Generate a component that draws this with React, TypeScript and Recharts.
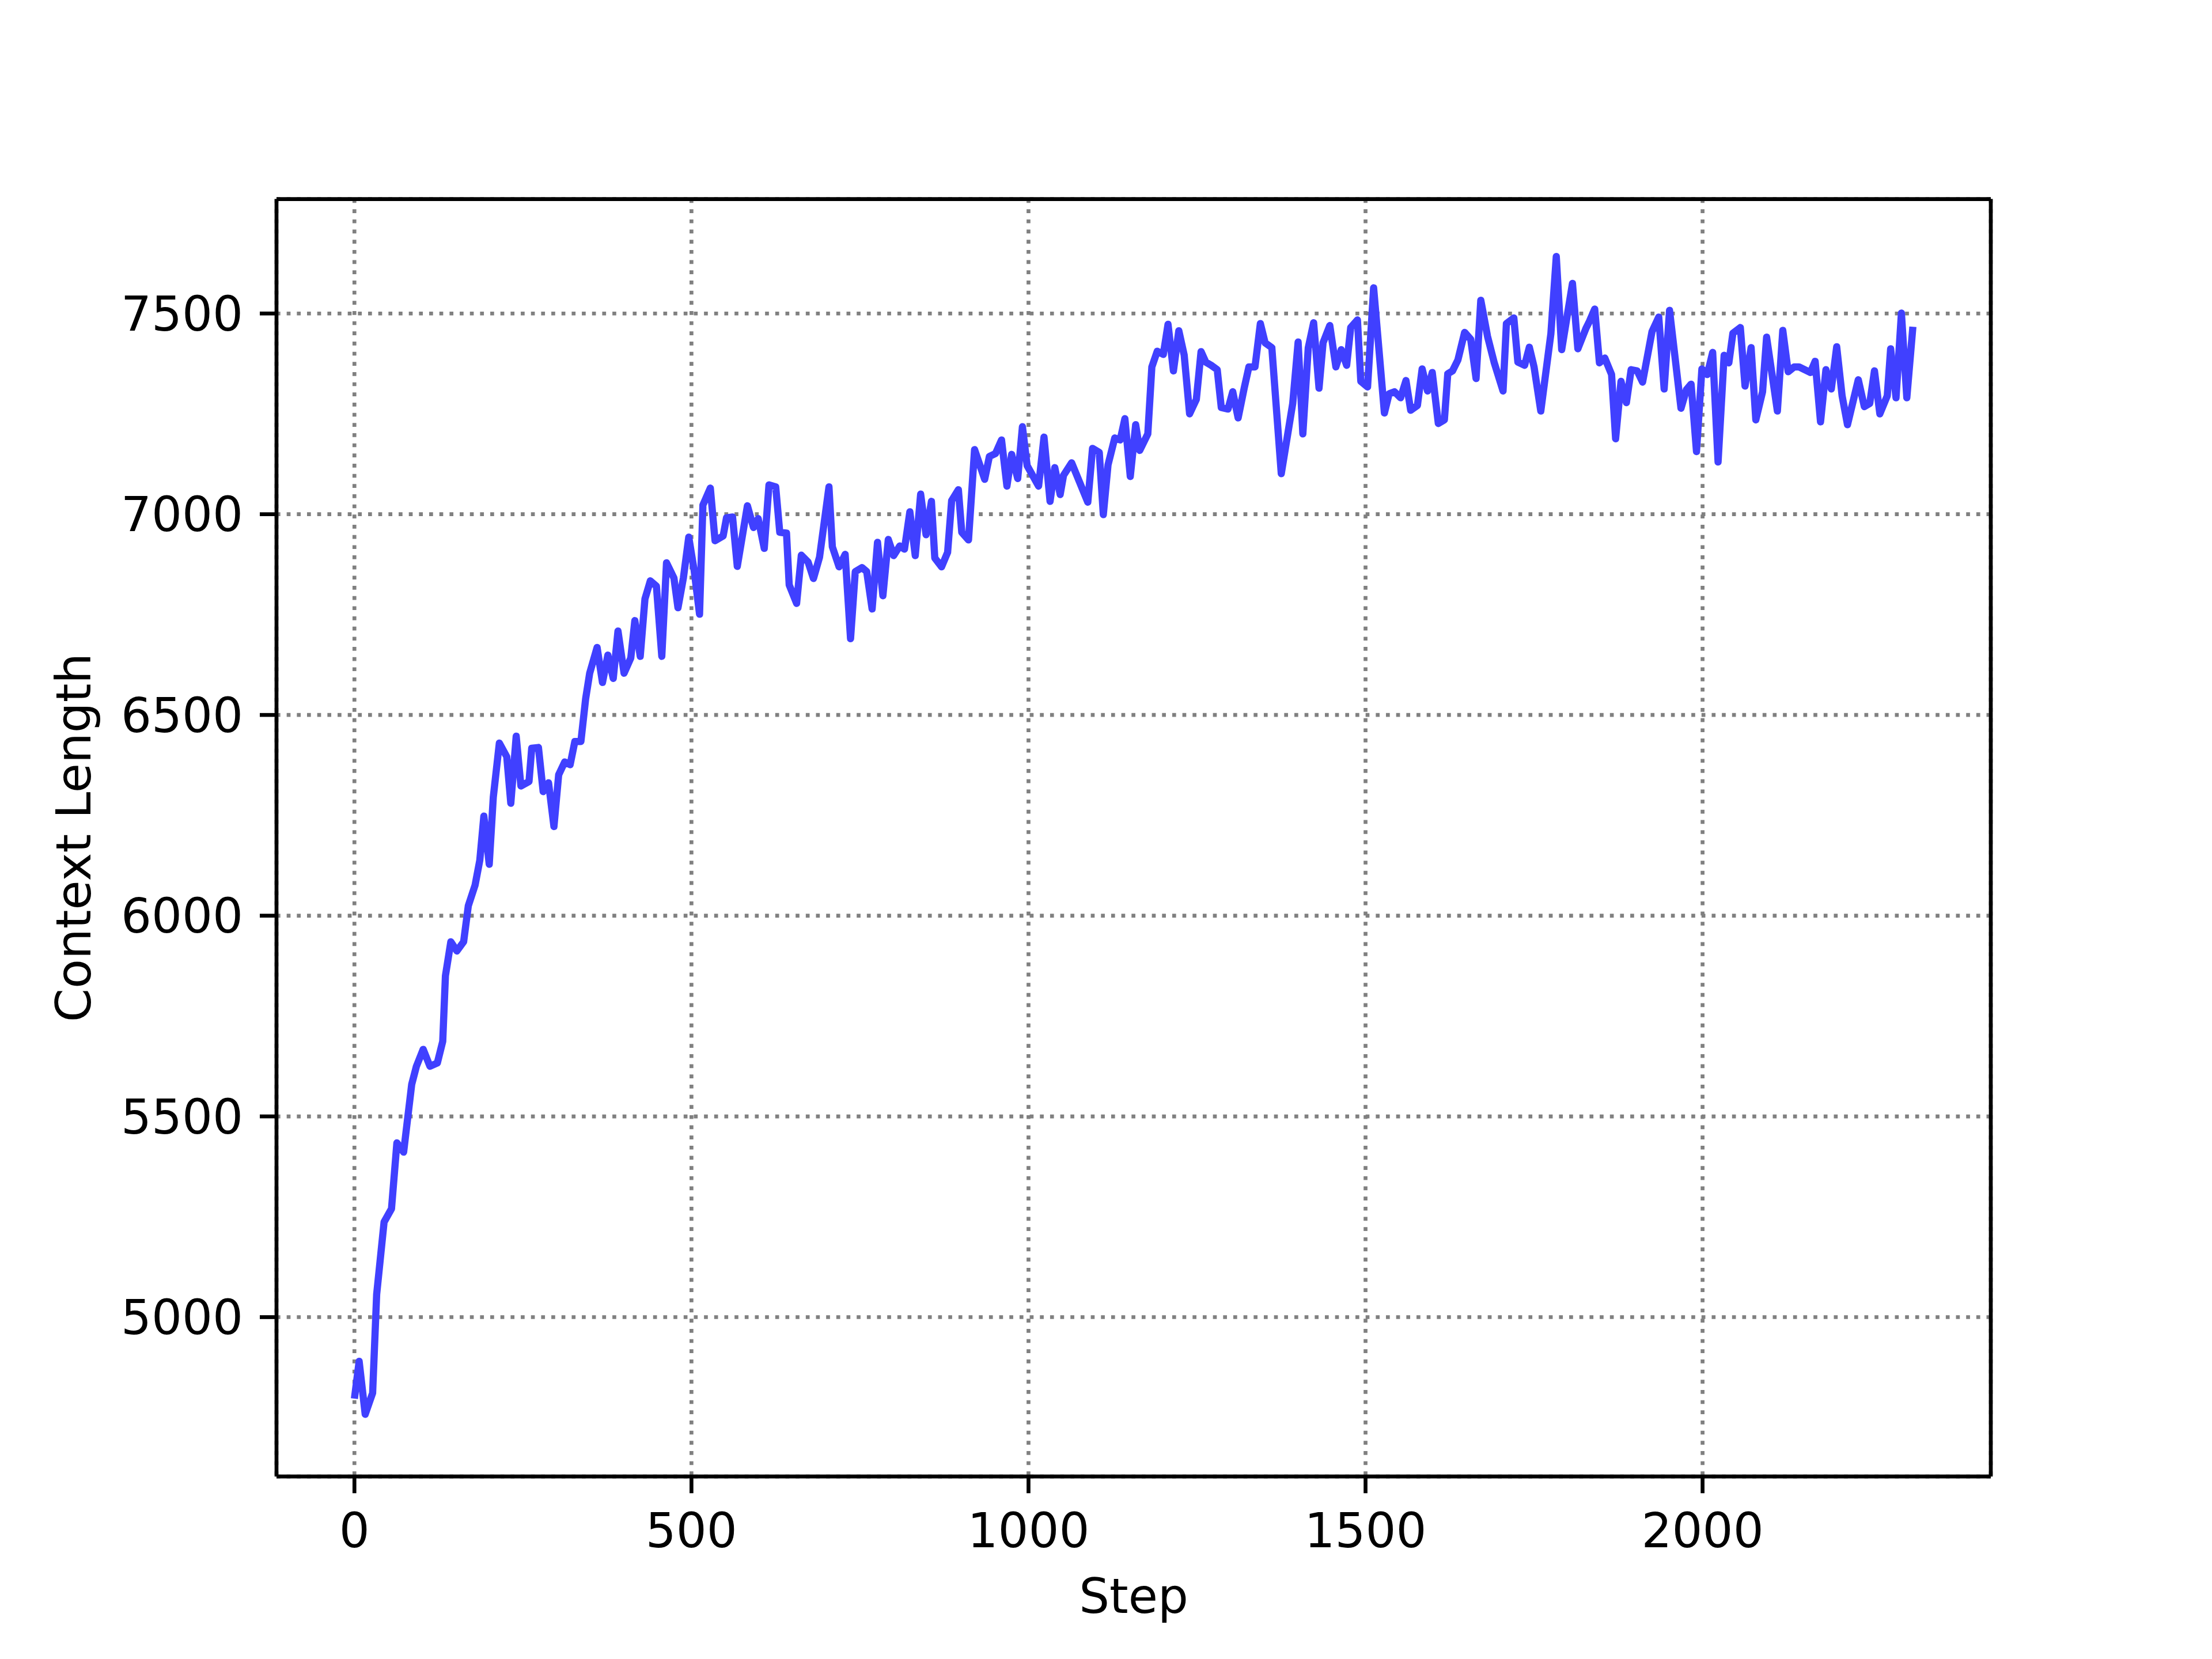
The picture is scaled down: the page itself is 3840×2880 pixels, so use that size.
import { CartesianGrid, Line, LineChart, XAxis, YAxis } from 'recharts';

// training step at each logged point
const steps = [
  0, 7, 16, 27, 33, 44, 55, 63, 73, 85, 92, 102, 112, 123, 131, 135, 143, 152, 162, 169,
  179, 186, 192, 200, 206, 215, 226, 232, 240, 247, 259, 263, 273, 280, 288, 296, 303,
  312, 320, 327, 336, 343, 349, 360, 368, 376, 384, 391, 400, 410, 416, 424, 431, 439, 448,
  456, 463, 474, 480, 488, 496, 504, 512, 517, 528, 535, 547, 552, 561, 568, 583,
  592, 599, 608, 615, 625, 631, 641, 645, 656, 663, 673, 681, 690, 704, 709, 719, 728, 736,
  743, 753, 760, 768, 776, 784, 792, 800, 809, 816, 824, 832, 840, 848, 856, 861, 871,
  880, 886, 896, 901, 911, 920, 935, 942, 951, 960, 968, 975, 984, 991, 998, 1015, 1023,
  1032, 1039, 1047, 1052, 1064, 1088, 1095, 1105, 1111, 1118, 1128, 1136, 1143, 1151, 1159, 1165,
  1177, 1183, 1191, 1200, 1207, 1215, 1223, 1231, 1239, 1249, 1256, 1263, 1271, 1280, 1286,
  1296, 1303, 1311, 1320, 1327, 1336, 1344, 1351, 1361, 1375, 1392, 1400, 1407, 1415, 1423,
  1431, 1437, 1447,
  1456, 1464, 1472, 1478, 1488, 1493, 1503, 1512, 1528, 1535, 1543, 1552, 1560, 1567, 1577,
  1584, 1592, 1599, 1608, 1617, 1622, 1629, 1637, 1647, 1656, 1664, 1671, 1681, 1691, 1704,
  1709, 1720, 1726, 1736,
  1743, 1750, 1760, 1775, 1783, 1791, 1807, 1815, 1827, 1832, 1840, 1847, 1855, 1865, 1871,
  1879, 1887, 1894, 1903, 1911, 1925, 1935, 1943, 1951, 1968, 1976, 1983, 1991, 1999, 2007,
  2015, 2023,
  2032, 2039, 2045, 2056, 2063, 2072, 2079, 2089, 2095, 2111, 2119, 2127, 2136, 2143, 2160,
  2167, 2175, 2183, 2191, 2199, 2207, 2215, 2231, 2240, 2248, 2255, 2263, 2274, 2279, 2287,
  2295, 2303, 2312,
];

const contextLength = [
  4797, 4890, 4758, 4811, 5057, 5237, 5270, 5434, 5411, 5580, 5625, 5667, 5625, 5633, 5687, 5850, 5935, 5912, 5935, 6025,
  6076, 6138, 6248, 6128, 6295, 6430, 6396, 6280, 6447, 6323, 6334, 6417, 6419, 6309, 6331, 6222, 6351,
  6383, 6376, 6434, 6434, 6540, 6604, 6668, 6581, 6649, 6591, 6709, 6604, 6642, 6735, 6646, 6789, 6834, 6821,
  6646, 6879, 6841, 6767, 6841, 6943, 6860, 6751, 7023, 7065, 6934, 6946, 6991, 6993, 6870, 7021,
  6967, 6989, 6915, 7073, 7068, 6955, 6953, 6824, 6778, 6898, 6881, 6840, 6893, 7068, 6919, 6869, 6900, 6690,
  6857, 6867, 6857, 6764, 6930, 6797, 6937, 6897, 6921, 6913, 7006, 6897, 7050, 6949, 7032, 6891, 6869,
  6905, 7034, 7061, 6955, 6936, 7161, 7087, 7144, 7151, 7185, 7070, 7149, 7089, 7218, 7121, 7070, 7192,
  7032, 7116, 7049, 7097, 7128, 7030, 7164, 7154, 6999, 7123, 7190, 7185, 7238, 7094, 7223, 7159,
  7200, 7367, 7406, 7398, 7473, 7357, 7457, 7396, 7250, 7286, 7405, 7379, 7371, 7360, 7266,
  7262, 7305, 7240, 7314, 7367, 7367, 7475, 7427, 7415, 7101, 7276, 7429, 7200, 7414, 7477,
  7314, 7427, 7470,
  7367, 7410, 7371, 7465, 7484, 7331, 7317, 7564, 7252, 7300, 7305, 7290, 7333, 7259, 7271,
  7362, 7307, 7353, 7226, 7235, 7350, 7357, 7384, 7453, 7436, 7338, 7533, 7443, 7377, 7307,
  7475, 7489, 7379, 7371,
  7416, 7367, 7257, 7450, 7642, 7410, 7575, 7412, 7463, 7480, 7511, 7377, 7389, 7348, 7188,
  7331, 7278, 7360, 7357, 7329, 7455, 7491, 7312, 7508, 7264, 7310, 7324, 7156, 7362, 7348,
  7403, 7130,
  7396, 7377, 7451, 7465, 7319, 7415, 7235, 7305, 7441, 7257, 7458, 7355, 7367, 7367, 7353,
  7381, 7230, 7360, 7312, 7417, 7295, 7223, 7335, 7268, 7276, 7357, 7250, 7295, 7412, 7290,
  7501, 7290, 7467,
];

const stepTicks = [0, 500, 1000, 1500, 2000];
const lengthTicks = [5000, 5500, 6000, 6500, 7000, 7500];

const data = steps.map((step, i) => ({ step, contextLength: contextLength[i] }));

// matplotlib-style autoscale: 5% padding either side
const pad = (lo: number, hi: number): [number, number] => {
  const m = (hi - lo) * 0.05;
  return [lo - m, hi + m];
};
const xDomain = pad(Math.min(...steps), Math.max(...steps));
const yDomain: [number, number] = [4603, 7785];

const W = 3840;
const H = 2880;
const FONT = '"DejaVu Sans", sans-serif';
const FS = 83.33;
const LW = 6.67;

const tickStyle = { fill: '#000', fontSize: FS, fontFamily: FONT };
const axisStroke = { stroke: '#000', strokeWidth: LW };

export default function App() {
  return (
    <div style={{ position: 'absolute', left: 0, top: 0, width: W, height: H, background: '#fff' }}>
      <LineChart
        width={W}
        height={H}
        data={data}
        margin={{ top: 344.6, right: 383, bottom: 116.8, left: 180 }}
      >
        <CartesianGrid
          stroke="#808080"
          strokeWidth={LW}
          strokeDasharray="6.67 11"
        />
        <XAxis
          dataKey="step"
          type="number"
          domain={xDomain}
          ticks={stepTicks}
          allowDataOverflow
          height={200}
          tick={tickStyle}
          tickSize={29}
          tickMargin={35}
          tickLine={axisStroke}
          axisLine={axisStroke}
        />
        {/* top / right spines: axes must be at least 1px to be drawn */}
        <XAxis
          xAxisId="top"
          orientation="top"
          dataKey="step"
          type="number"
          domain={xDomain}
          allowDataOverflow
          height={1}
          tick={false}
          tickLine={false}
          axisLine={axisStroke}
        />
        <YAxis
          type="number"
          domain={yDomain}
          ticks={lengthTicks}
          allowDataOverflow
          width={300}
          tick={tickStyle}
          tickSize={29}
          tickMargin={29}
          tickLine={axisStroke}
          axisLine={axisStroke}
        />
        <YAxis
          yAxisId="right"
          orientation="right"
          type="number"
          domain={yDomain}
          allowDataOverflow
          width={1}
          tick={false}
          tickLine={false}
          axisLine={axisStroke}
        />
        <Line
          type="linear"
          dataKey="contextLength"
          stroke="#4040ff"
          strokeWidth={12.5}
          strokeLinejoin="round"
          dot={false}
          activeDot={false}
          isAnimationActive={false}
        />
      </LineChart>
      <svg
        width={W}
        height={H}
        style={{ position: 'absolute', left: 0, top: 0, pointerEvents: 'none' }}
      >
        <text x={1968} y={2800} textAnchor="middle" fontFamily={FONT} fontSize={FS} fill="#000">
          Step
        </text>
        <text
          transform="translate(156.7,1454) rotate(-90)"
          textAnchor="middle"
          fontFamily={FONT}
          fontSize={FS}
          fill="#000"
        >
          Context Length
        </text>
      </svg>
    </div>
  );
}
